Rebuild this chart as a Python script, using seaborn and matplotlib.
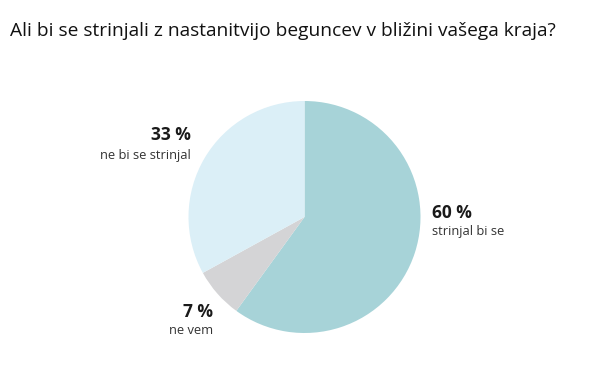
import matplotlib
matplotlib.use("Agg")
import matplotlib.pyplot as plt
import seaborn as sns

sns.set_theme(style="white")
plt.rcParams['font.family'] = ['Open Sans', 'DejaVu Sans']

title = "Ali bi se strinjali z nastanitvijo beguncev v bližini vašega kraja?"
categories = ["strinjal bi se", "ne vem", "ne bi se strinjal"]
values = [60, 7, 33]
colors = ["#a7d3d8", "#d4d4d6", "#dbeff7"]

W, H = 600, 365
fig = plt.figure(figsize=(W / 100, H / 100), dpi=100)
ax = fig.add_axes([0, 0, 1, 1])

cx, cy, r = 304.5, H - 217, 116
ax.pie(values, colors=colors, startangle=90, counterclock=False,
       center=(cx, cy), radius=r, frame=True,
       wedgeprops=dict(linewidth=0))
ax.set_xlim(0, W)
ax.set_ylim(0, H)
ax.set_aspect("equal")
ax.axis("off")

# label positions (pixels from top-left)
lab = {
    "strinjal bi se": (432, 213, 232, "left"),
    "ne vem": (213, 312, 330, "right"),
    "ne bi se strinjal": (191, 135, 155, "right"),
}
for cat, v in zip(categories, values):
    x, y1, y2, ha = lab[cat]
    ax.text(x, H - y1, f"{v} %", ha=ha, va="center", fontsize=12.5,
            fontweight="bold", color="#1a1a1a")
    ax.text(x, H - y2, cat, ha=ha, va="center", fontsize=9.3, color="#333333")

fig.text(10 / W, 1 - 31 / H, title, ha="left", va="center", fontsize=13.8,
         color="#111111")

fig.savefig("out.png", dpi=100, facecolor="white")
